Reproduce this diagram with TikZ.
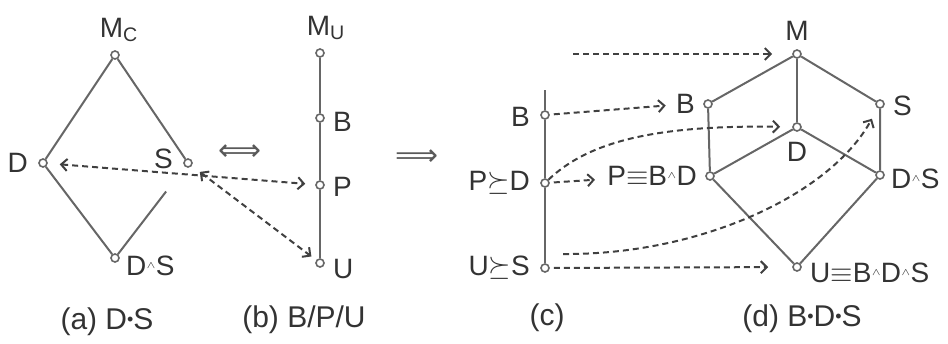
\documentclass[tikz,border=0pt]{standalone}
\usepackage{fontspec}
\setmainfont{Liberation Sans}
\newfontfamily\symfont{DejaVu Sans}
\usetikzlibrary{arrows.meta,positioning,calc}
\newcommand{\meetop}{\raisebox{0.45ex}{\tiny$\wedge$}}
\newcommand{\prodop}{\raisebox{0.3ex}{\fontsize{9}{9}\selectfont\textbullet}}

\begin{document}
\begin{tikzpicture}[x=0.5pt,y=-0.5pt,
  vtx/.style={circle,draw=black!60,fill=white,line width=0.8pt,inner sep=0pt,minimum size=4pt},
  lbl/.style={font=\fontsize{14}{16}\selectfont,text=black!80,inner sep=1pt},
  capt/.style={font=\fontsize{15}{17}\selectfont,text=black!80},
  ln/.style={draw=black!60,line width=1pt},
  darr/.style={black!75,line width=1pt,dash pattern=on 3pt off 2pt,
    -{Straight Barb[length=3pt,width=6pt]}},
  bigarr/.style={text=black!65,font=\symfont\fontsize{15}{17}\selectfont}
]
  \useasboundingbox (0,0) rectangle (948,343);

  % (a) D*S
  \node[vtx] (mc) at (115,55) {};
  \node[vtx] (da) at (43,163) {};
  \node[vtx] (sa) at (188,163) {};
  \node[vtx] (dsa) at (115,258) {};
  \node[lbl,above=3pt of mc,xshift=2pt] (mcl) {M\textsubscript{C}};
  \node[lbl,left=4pt of da] (dal) {D};
  \node[lbl,left=4pt of sa,yshift=2pt] (sal) {S};
  \node[lbl,right=2pt of dsa,yshift=-4pt] (dsal) {D\meetop S};
  \draw[ln] (da) -- (mc) -- (sa);
  \draw[ln] (da) -- (dsa) -- ($(dsa)!0.7!(sa)$);
  \node[capt] at (107,322) {(a) D\prodop S};

  \node[bigarr] (eqv) at (240,153) {⟺};

  % (b) B/P/U
  \node[vtx] (mu) at (320,53) {};
  \node[vtx] (bb) at (320,118) {};
  \node[vtx] (pb) at (320,185) {};
  \node[vtx] (ub) at (320,263) {};
  \node[lbl,above=3pt of mu,xshift=3pt] (mul) {M\textsubscript{U}};
  \node[lbl,right=3pt of bb,yshift=-2pt] (bbl) {B};
  \node[lbl,right=3pt of pb,yshift=-1pt] (pbl) {P};
  \node[lbl,right=3pt of ub,yshift=-3pt] (ubl) {U};
  \draw[ln] (mu) -- (bb) -- (pb) -- (ub);
  \node[capt] at (304,320) {(b) B/P/U};

  \draw[darr,{Straight Barb[length=3pt,width=6pt]}-{Straight Barb[length=3pt,width=6pt]},
    shorten <=6pt,shorten >=5pt] (da) -- (pb);
  \draw[darr,{Straight Barb[length=3pt,width=6pt]}-{Straight Barb[length=3pt,width=6pt]},
    shorten <=5pt,shorten >=3pt] (sa) -- (ub);

  \node[bigarr] (impl) at (417,158) {⟹};

  % (c)
  \coordinate (ctop) at (545,90);
  \node[vtx] (bc) at (545,115) {};
  \node[vtx] (dc) at (545,183) {};
  \node[vtx] (sc) at (545,268) {};
  \node[lbl,left=4pt of bc,yshift=-1pt] (bcl) {B};
  \node[lbl,left=4pt of dc] (dcl) {P{$\succeq$}D};
  \node[lbl,left=4pt of sc] (scl) {U{$\succeq$}S};
  \draw[ln] (ctop) -- (bc) -- (dc) -- (sc);
  \node[capt] at (547,318) {(c)};

  % (d) B*D*S
  \node[vtx] (md) at (797,54) {};
  \node[vtx] (bd) at (708,104) {};
  \node[vtx] (sd) at (880,104) {};
  \node[vtx] (dd) at (797,127) {};
  \node[vtx] (pd) at (710,176) {};
  \node[vtx] (dsd) at (880,175) {};
  \node[vtx] (ud) at (797,267) {};
  \node[lbl,above=3pt of md] (mdl) {M};
  \node[lbl,left=3pt of bd] (bdl) {B};
  \node[lbl,right=3pt of sd,yshift=-1pt] (sdl) {S};
  \node[lbl,below=4pt of dd] (ddl) {D};
  \node[lbl,left=3pt of pd] (pdl) {P$\equiv$B\meetop D};
  \node[lbl,right=2pt of dsd,yshift=-2pt] (dsdl) {D\meetop S};
  \node[lbl,right=3pt of ud,yshift=-3pt] (udl) {U$\equiv$B\meetop D\meetop S};
  \draw[ln] (bd) -- (md) -- (sd);
  \draw[ln] (md) -- (dd);
  \draw[ln] (bd) -- (pd) -- (ud) -- (dsd) -- (sd);
  \draw[ln] (pd) -- (dd) -- (dsd);
  \node[capt] at (802,319) {(d) B\prodop D\prodop S};

  % (c) -> (d)
  \coordinate (mtail) at (573,54);
  \draw[darr,shorten >=10pt] (mtail) -- (md);
  \draw[darr,shorten <=2pt,shorten >=4pt] (bc) -- (bdl);
  \draw[darr,shorten <=2pt,shorten >=5pt] (dc) -- (pdl);
  \draw[darr,shorten >=6pt] (dc) .. controls (590,140) and (660,125) .. (dd);
  \draw[darr,shorten >=6pt] ([xshift=9pt,yshift=7pt]sc.center)
    .. controls (700,255) and (830,195) .. (sd);
  \draw[darr,shorten <=2pt,shorten >=12pt] (sc) -- (ud);
\end{tikzpicture}
\end{document}
